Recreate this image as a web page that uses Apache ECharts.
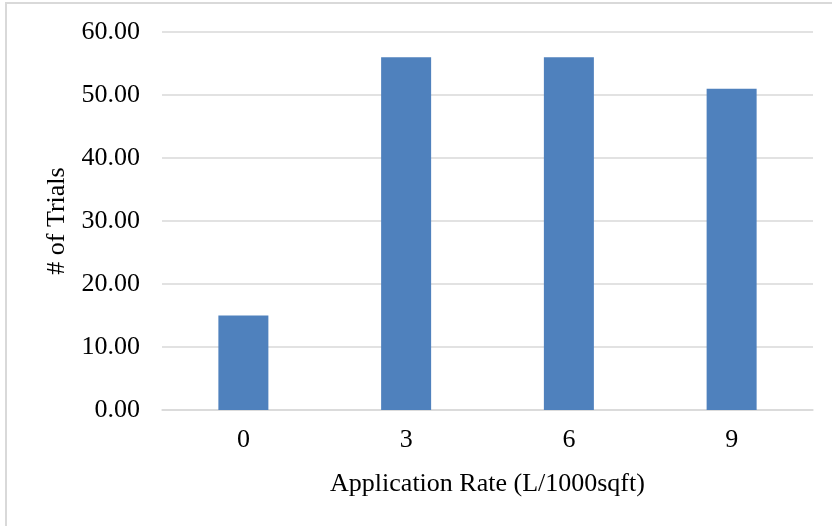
<!DOCTYPE html>
<html><head><meta charset="utf-8">
<script src="https://cdn.jsdelivr.net/npm/echarts@6/dist/echarts.min.js"></script>
<style>
html,body{margin:0;padding:0;background:#fff;}
#frame{position:absolute;left:5px;top:2px;width:840px;height:540px;border:2px solid #d9d9d9;box-sizing:border-box;}
#c{position:absolute;left:0;top:0;width:832px;height:526px;}
</style></head>
<body>
<div id="frame"></div>
<div id="c"></div>
<script>
const categories = ['0', '3', '6', '9'];
const trials = [15, 56, 56, 51];
const yTicks = {min: 0, max: 60, interval: 10};

const chart = echarts.init(document.getElementById('c'), null, {renderer: 'canvas'});
const font = '"Liberation Serif", "Times New Roman", serif';
chart.setOption({
  animation: false,
  backgroundColor: 'transparent',
  grid: {left: 162, right: 19, top: 32, bottom: 116, containLabel: false},
  xAxis: {
    type: 'category',
    data: categories,
    name: 'Application Rate (L/1000sqft)',
    nameLocation: 'middle',
    nameGap: 61,
    nameTextStyle: {fontFamily: font, fontSize: 26, color: '#000'},
    axisLine: {show: true, lineStyle: {color: '#d9d9d9', width: 1.5}},
    axisTick: {show: false},
    axisLabel: {fontFamily: font, fontSize: 26, color: '#000', margin: 17}
  },
  yAxis: {
    type: 'value',
    min: yTicks.min, max: yTicks.max, interval: yTicks.interval,
    name: '# of Trials',
    nameLocation: 'middle',
    nameGap: 92,
    nameRotate: 90,
    nameTextStyle: {fontFamily: font, fontSize: 26, color: '#000'},
    axisLine: {show: false},
    axisTick: {show: false},
    splitLine: {lineStyle: {color: '#d9d9d9', width: 1.5}},
    axisLabel: {fontFamily: font, fontSize: 26, color: '#000', margin: 22,
      formatter: v => v.toFixed(2)}
  },
  series: [{
    type: 'bar',
    data: trials,
    barWidth: 50,
    itemStyle: {color: '#4f81bd'}
  }]
});
</script>
</body></html>
